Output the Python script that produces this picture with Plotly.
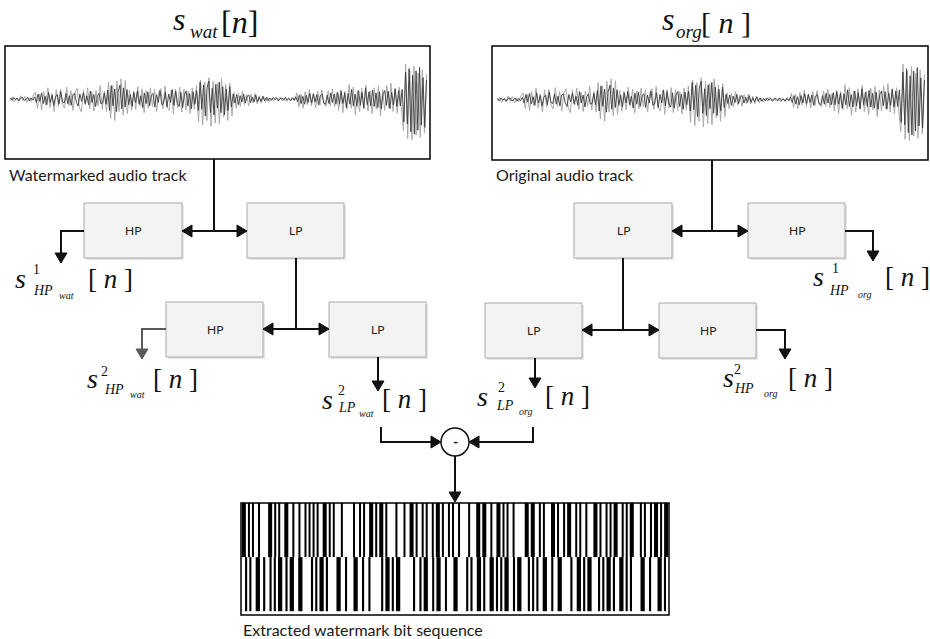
import plotly.graph_objects as go
import numpy as np

W, H = 930, 639

# ---------------- data ----------------
# audio waveform samples, % of half frame height (read from the picture;
# both tracks look the same at this scale)
wave_dark = [
    2, -2, 3, -1, 2, -3, 2, 3, -2, -1, 3, -3, 2, -2, 4,
    -6, 9, -4, 11, -8, 5, -10, 12, -6, 7, -11, 4, 8, -9, 13, -5, -7, 10, -8, 6, -11,
    8, 10, -6, -12, 9, -4, 11, -8, 6, -10, 14, -6, 8, -13, 5, 10, -8, -7, 11, -9,
    16, -20, 24, -12, 18, -22, 14, 25, -17, 20, -14, 17,
    -10, 8, -13, 12, -6, 14, -9, 6, -15, 11, -8, 13, -12, 7, 10, -14, 8, -6, 15, -10,
    -8, 12, -14, 9, -6, 17, -11, 14, -8, -13, 12, -15, 8, 14, -12, 10, -17, 13, -9, 15,
    -20, 30, -18, 25, -30, 20, 32, -24, 19, -28, 26, -16, 30, -24, 22, -28, 18, -20, 22, -14,
    9, -7, 8, -10, 6, -5, 9, -7, 5, 7, -6, 4, -5, 7, -5, 3, -4, 5, -3, 3,
    -3, 2, -2, 3, -1, 2, -3, 1, 2, -2, 3, -2, 1, -3, 2, -2, 4,
    -5, 7, -8, 5, -9, 7, -6, 10, -7, 9, -5, 8, -10, 6, 9, -7, -9, 7, -8, 11, -6, 9, -9,
    12, -9, 14, -8, 11, -15, 10, -9, 17, -12, 9, -13, 15, -11, 12, -16, 19, -10, 13, -12,
    16, -13, 11, -15, 13, -17, 9, 15, -11, 14, -17, 12, -10, 18, -13, 15, -12, 17,
    -40, 48, -44, 54, -58, 42, -62, 50, -55, 56, -46, 38, -50, 34,
]
wave_light = [
    -3, 4, -5, 2, -4, 6, -3, 5, -6, 3, -4, 7,
    12, -16, 9, -19, 14, -11, 20, -15, 10, -22, 17, -13, 18, -9, -16, 21, -12, 15, -20, 11,
    19, -14, -23, 16, -10, 20, -17, 13, -21, 15, -12, 24, -18, 14, -22,
    30, -34, 24, -38, 32, -22, 36, -28, 33, -26,
    16, -20, 14, -18, 22, -12, 18, -24, 15, -16, 20, -13, 17, -22, 12, 19, -17, 23, -14, -20,
    16, -26, 18, -15, 21, -23, 17, -19, 14, -25, 20, -18, 24,
    -40, 34, -46, 30, -38, 38, -48, 32, -42, 28, -44, 36, -32, 26, -38, 28, -30,
    12, -16, 10, -13, 14, -10, 8, -12, 9, -7, 10, -8, 6, -7, 5, -6,
    3, -4, 2, -3, 4, -2, 3, -3, 2, -4, 3, -2, 4, -3,
    11, -14, 9, -16, 13, -10, 17, -12, 10, -15, 14, -11, 16, -9, -13, 15, -12, 18, -14, 11,
    -20, 16, -24, 14, -18, 26, -16, 21, -28, 15, -22, 19, -17, 25, -21, 14, -26, 20, -18, 23,
    -30, 17, -20, 24, -16, 28, -22, 19, -25, 21, -18,
    -56, 62, -70, 50, -72, 58, -64, 46, -68, 52, -60, 44,
]

# extracted bit sequence, as run lengths (black, white, black, white, ...)
bits_top_runs = [2, 1, 1, 1, 1, 2, 1, 4, 2, 1, 1, 1, 1, 2, 2, 2, 1, 2, 1, 2, 1, 1, 1, 1, 1, 1, 1, 2,
                 2, 1, 1, 1, 1, 3, 1, 5, 1, 2, 1, 1, 1, 2, 2, 1, 1, 1, 2, 1, 1, 4, 1, 3, 1, 2, 2, 1,
                 1, 2, 1, 1, 1, 2, 1, 1, 2, 1, 1, 2, 1, 1, 1, 2, 1, 4, 1, 3, 2, 1, 2, 2, 1, 2, 2, 1,
                 1, 1, 1, 2, 1, 5, 2, 1, 2, 2, 1, 1, 1, 3, 2, 1, 1, 2, 1, 1, 2, 2, 1, 1, 1, 2, 1, 3,
                 2, 1, 1, 2, 1, 1, 1, 1, 2, 2, 1, 1, 1, 1, 2, 3, 1, 1, 1, 2, 1, 1, 2, 1, 1, 1, 2]
bits_bottom_runs = [0, 1.5, 1, 1, 1, 2, 2, 1.5, 1, 2, 1, 1, 1, 1, 2, 1.5, 1, 1, 2, 2, 2, 4, 1, 1,
                    1, 1, 2, 1, 1, 4, 2, 2, 1, 3, 2, 2, 1, 2, 1, 5, 1, 1, 2, 1, 1, 1, 2, 6, 1, 2,
                    1, 1, 2, 2, 1, 1, 2, 2, 1, 3, 2, 4, 1, 1, 1, 2, 2, 1, 1, 2, 2, 1, 1, 1, 1, 1,
                    2, 2, 1, 1, 2, 3, 1, 1, 1, 1, 1, 2, 2, 2, 1, 2, 2, 4, 1, 2, 2, 1, 1, 1, 2, 3,
                    1, 1, 1, 1, 2, 1, 1, 2, 2, 1, 1, 1, 1, 4, 2, 2, 1, 3, 2, 1, 1, 1]

track_labels = ["Watermarked audio track", "Original audio track"]
bit_label = "Extracted watermark bit sequence"
filter_labels = ["HP", "LP", "HP", "LP", "LP", "HP", "LP", "HP"]
# (superscript, subscript, sub-subscript) of each output signal
signal_labels = [("1", "HP", "wat"), ("2", "HP", "wat"), ("2", "LP", "wat"),
                 ("1", "HP", "org"), ("2", "HP", "org"), ("2", "LP", "org")]
title_subs = ["wat", "org"]

# ---------------- figure ----------------
fig = go.Figure()


def dom_x(a, b):
    return [a / W, b / W]


def dom_y(top, bottom):
    return [1 - bottom / H, 1 - top / H]


# main (pixel) axes
fig.add_trace(go.Scatter(x=[0], y=[0], mode="markers", marker=dict(opacity=0),
                         hoverinfo="skip"))

# waveforms
n_dark = len(wave_dark)
x_dark = np.arange(n_dark)
x_light = np.linspace(0, n_dark - 1, len(wave_light))
wave_boxes = [(5, 46, 430, 159), (492, 46, 928, 160)]
for ax, ay in [("x2", "y2"), ("x3", "y3")]:
    fig.add_trace(go.Scatter(x=x_light, y=wave_light, xaxis=ax, yaxis=ay, mode="lines",
                             line=dict(color="#a9a9a9", width=1), hoverinfo="skip"))
    fig.add_trace(go.Scatter(x=x_dark, y=wave_dark, xaxis=ax, yaxis=ay, mode="lines",
                             line=dict(color="#3a3a3a", width=0.9), hoverinfo="skip"))


def runs_to_bars(runs):
    total = float(sum(runs))
    pos, cx, wd = 0.0, [], []
    for i, r in enumerate(runs):
        if i % 2 == 0 and r > 0:
            cx.append((pos + r / 2) / total)
            wd.append(r / total)
        pos += r
    return cx, wd


for runs, base in [(bits_top_runs, 1.0), (bits_bottom_runs, 0.0)]:
    cx, wd = runs_to_bars(runs)
    fig.add_trace(go.Bar(x=cx, y=[1.0] * len(cx), base=[base] * len(cx), width=wd,
                         marker=dict(color="black", line=dict(width=0)),
                         xaxis="x4", yaxis="y4", hoverinfo="skip"))

hidden = dict(visible=False, showgrid=False, zeroline=False, fixedrange=True)
fig.update_layout(
    width=W, height=H, margin=dict(l=0, r=0, t=0, b=0),
    paper_bgcolor="white", plot_bgcolor="rgba(0,0,0,0)",
    showlegend=False, barmode="overlay", hovermode=False,
    xaxis=dict(range=[0, W], domain=[0, 1], **hidden),
    yaxis=dict(range=[H, 0], domain=[0, 1], **hidden),
    xaxis2=dict(range=[-3, n_dark + 1], domain=dom_x(5, 430), anchor="y2", **hidden),
    yaxis2=dict(range=[-106, 94], domain=dom_y(46, 159), anchor="x2", **hidden),
    xaxis3=dict(range=[-3, n_dark + 1], domain=dom_x(492, 928), anchor="y3", **hidden),
    yaxis3=dict(range=[-106, 94], domain=dom_y(46, 160), anchor="x3", **hidden),
    xaxis4=dict(range=[-0.002, 1.002], domain=dom_x(241, 669), anchor="y4", **hidden),
    yaxis4=dict(range=[-0.07, 2.0], domain=dom_y(503, 615), anchor="x4", **hidden),
)

shapes = []
annotations = []

# waveform frames
for (x0, y0, x1, y1) in wave_boxes:
    shapes.append(dict(type="rect", xref="x", yref="y", x0=x0, y0=y0, x1=x1, y1=y1,
                       line=dict(color="black", width=1.5), fillcolor="rgba(0,0,0,0)"))
# barcode frame
shapes.append(dict(type="rect", xref="x", yref="y", x0=241, y0=503, x1=669, y1=615,
                   line=dict(color="black", width=1.5), fillcolor="rgba(0,0,0,0)"))

# filter boxes
fbox = [(84, 203, 182, 258), (247, 203, 344, 258), (166, 302, 263, 357), (329, 302, 426, 357),
        (574, 203, 672, 258), (748, 203, 845, 258), (485, 303, 582, 358), (659, 303, 756, 358)]
for (x0, y0, x1, y1), lab in zip(fbox, filter_labels):
    shapes.append(dict(type="rect", xref="x", yref="y", x0=x0 + 2, y0=y0 + 2, x1=x1 + 2, y1=y1 + 2,
                       line=dict(width=0), fillcolor="#e6e6e6", layer="below"))
    shapes.append(dict(type="rect", xref="x", yref="y", x0=x0, y0=y0, x1=x1, y1=y1,
                       line=dict(color="#a8a8a8", width=1), fillcolor="#f3f3f3", layer="below"))
    annotations.append(dict(x=(x0 + x1) / 2, y=(y0 + y1) / 2, xref="x", yref="y", text=lab,
                            showarrow=False, font=dict(family="Lato", size=12, color="#222")))

BLACK = "#111111"


def poly(points, color=BLACK, width=2):
    d = "M" + " L".join(f"{x},{y}" for x, y in points)
    shapes.append(dict(type="path", xref="x", yref="y", path=d,
                       line=dict(color=color, width=width)))


def head(tx, ty, d, color=BLACK, L=10, hw=6):
    if d == "down":
        p = [(tx, ty), (tx - hw, ty - L), (tx + hw, ty - L)]
    elif d == "up":
        p = [(tx, ty), (tx - hw, ty + L), (tx + hw, ty + L)]
    elif d == "left":
        p = [(tx, ty), (tx + L, ty - hw), (tx + L, ty + hw)]
    else:
        p = [(tx, ty), (tx - L, ty - hw), (tx - L, ty + hw)]
    path = "M" + " L".join(f"{x},{y}" for x, y in p) + " Z"
    shapes.append(dict(type="path", xref="x", yref="y", path=path,
                       line=dict(color=color, width=1), fillcolor=color))


# left tree
poly([(214, 159), (214, 231)])
poly([(190, 231), (239, 231)])
head(182, 231, "left"); head(247, 231, "right")
poly([(84, 231), (61, 231), (61, 254)])
head(61, 263, "down")
poly([(296, 258), (296, 329)])
poly([(271, 329), (321, 329)])
head(263, 329, "left"); head(329, 329, "right")
poly([(166, 329), (142, 329), (142, 350)], color="#5a5a5a")
head(142, 359, "down", color="#5a5a5a")
poly([(378, 357), (378, 382)])
head(378, 391, "down")

# right tree
poly([(712, 160), (712, 231)])
poly([(680, 231), (740, 231)])
head(672, 231, "left"); head(748, 231, "right")
poly([(845, 231), (873, 231), (873, 252)])
head(873, 261, "down")
poly([(623, 258), (623, 330)])
poly([(590, 330), (651, 330)])
head(582, 330, "left"); head(659, 330, "right")
poly([(756, 330), (785, 330), (785, 350)])
head(785, 359, "down")
poly([(535, 358), (535, 379)])
head(535, 388, "down")

# subtraction node
poly([(381, 427), (381, 442), (433, 442)])
head(441, 442, "right")
poly([(533, 427), (533, 442), (477, 442)])
head(469, 442, "left")
shapes.append(dict(type="circle", xref="x", yref="y", x0=441, y0=428, x1=469, y1=456,
                   line=dict(color=BLACK, width=1.5), fillcolor="white"))
annotations.append(dict(x=455, y=441, xref="x", yref="y", text="<b>-</b>", showarrow=False,
                        font=dict(family="Lato", size=14, color="#111")))
poly([(455, 456), (455, 493)])
head(455, 502, "down")

# plain text labels
annotations.append(dict(x=7, y=174, xref="x", yref="y", text=track_labels[0], showarrow=False,
                        xanchor="left", yanchor="middle",
                        font=dict(family="Lato", size=16, color="#1a1a1a")))
annotations.append(dict(x=494, y=174, xref="x", yref="y", text=track_labels[1], showarrow=False,
                        xanchor="left", yanchor="middle",
                        font=dict(family="Lato", size=16, color="#1a1a1a")))
annotations.append(dict(x=241, y=629, xref="x", yref="y", text=bit_label, showarrow=False,
                        xanchor="left", yanchor="middle",
                        font=dict(family="Lato", size=16, color="#1a1a1a")))

SERIF = "Liberation Serif"


def txt(x, y, s, size, italic=True):
    t = f"<i>{s}</i>" if italic else s
    annotations.append(dict(x=x, y=y, xref="x", yref="y", text=t, showarrow=False,
                            xanchor="left", yanchor="middle",
                            font=dict(family=SERIF, size=size, color="#111")))


# titles
txt(171, 19, "s", 32)
txt(188, 31, title_subs[0], 19)
txt(219, 22, "[<i>n</i>]", 32, italic=False)
txt(660, 19, "s", 32)
txt(674, 31, title_subs[1], 19)
txt(699, 22, "[ <i>n</i> ]", 30, italic=False)

# output signal labels: s, sup, sub, subsub, bracket positions
label_pos = [
    ((13, 278), (31, 269), (31, 290), (57, 295), (86, 279)),
    ((85, 378), (99, 371), (102, 389), (128, 394), (151, 379)),
    ((320, 399), (336, 390), (336, 407), (357, 413), (380, 399)),
    ((811, 276), (830, 268), (827, 290), (856, 294), (883, 277)),
    ((721, 377), (732, 369), (732, 388), (762, 393), (786, 378)),
    ((475, 396), (496, 387), (494, 405), (517, 411), (543, 396)),
]
for (sup, sub, sub2), (ps, pu, pb, pb2, pbr) in zip(signal_labels, label_pos):
    txt(ps[0], ps[1], "s", 28)
    txt(pu[0], pu[1], sup, 14, italic=False)
    txt(pb[0], pb[1], sub, 14)
    txt(pb2[0], pb2[1], sub2, 10)
    txt(pbr[0], pbr[1], "[ <i>n</i> ]", 27, italic=False)

fig.update_layout(shapes=shapes, annotations=annotations)
fig.write_html("out.html", config={"displayModeBar": False, "staticPlot": True},
               post_script="document.body.style.margin='0';document.body.style.overflow='hidden';")
